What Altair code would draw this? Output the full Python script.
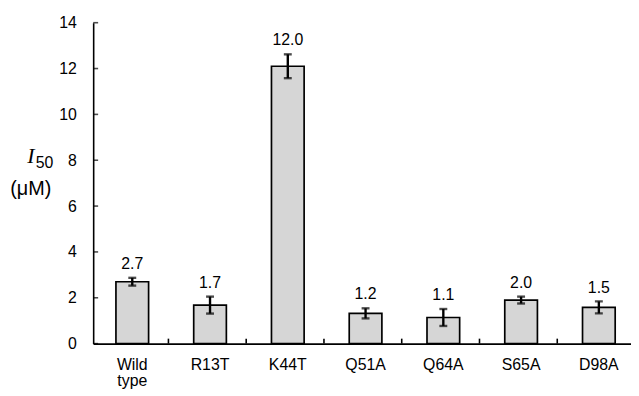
import altair as alt
import pandas as pd

categories = ["Wild type", "R13T", "K44T", "Q51A", "Q64A", "S65A", "D98A"]
means = [2.70, 1.68, 12.10, 1.32, 1.14, 1.90, 1.58]
errors = [0.17, 0.37, 0.52, 0.22, 0.37, 0.15, 0.26]
value_labels = ["2.7", "1.7", "12.0", "1.2", "1.1", "2.0", "1.5"]
y_ticks = [0, 2, 4, 6, 8, 10, 12, 14]

df = pd.DataFrame({
    "cat": categories,
    "mean": means,
    "lo": [m - e for m, e in zip(means, errors)],
    "hi": [m + e for m, e in zip(means, errors)],
    "lab": value_labels,
})

FONT = "Liberation Sans"
W, H = 543, 324

xscale = alt.Scale(domain=categories, paddingInner=0.58, paddingOuter=0.248, align=0.59)
yscale = alt.Scale(domain=[0, 14], nice=False, zero=True)

x_enc = alt.X("cat:N", scale=xscale, sort=categories,
              axis=alt.Axis(title=None, labelAngle=0, ticks=False, labelFont=FONT,
                            labelFontSize=16, labelColor="black", labelPadding=13,
                            labelLineHeight=16, domainColor="black", domainWidth=1.6,
                            labelExpr="split(datum.label, ' ')"))

base = alt.Chart(df)

bars = base.mark_bar(fill="#d6d6d6", stroke="black", strokeWidth=1.7).encode(
    x=x_enc,
    y=alt.Y("mean:Q", scale=yscale,
            axis=alt.Axis(title=None, values=y_ticks, ticks=False, grid=False,
                          labelFont=FONT, labelFontSize=16, labelColor="black",
                          labelPadding=17, domainColor="black", domainWidth=1.6)),
)

err_rule = base.mark_rule(color="black", strokeWidth=2.4).encode(
    x=alt.X("cat:N", scale=xscale, sort=categories), y="lo:Q", y2="hi:Q")
cap_lo = base.mark_tick(color="black", thickness=2.4, size=8, orient="horizontal").encode(
    x=alt.X("cat:N", scale=xscale, sort=categories), y="lo:Q")
cap_hi = base.mark_tick(color="black", thickness=2.4, size=8, orient="horizontal").encode(
    x=alt.X("cat:N", scale=xscale, sort=categories), y="hi:Q")

text = base.mark_text(font=FONT, fontSize=16, color="black", baseline="middle", dy=-14).encode(
    x=alt.X("cat:N", scale=xscale, sort=categories), y="hi:Q", text="lab:N")

# inward y-axis ticks
ytick_df = pd.DataFrame({"v": y_ticks})
yticks = alt.Chart(ytick_df).mark_tick(color="black", thickness=1.6, size=5,
                                       orient="horizontal", xOffset=2.5).encode(
    y=alt.Y("v:Q", scale=yscale), x=alt.value(0))

# inward x-axis ticks between bars
xtick_df = pd.DataFrame({"cat": categories[1:]})
xticks = alt.Chart(xtick_df).mark_rule(color="black", strokeWidth=1.6, xOffset=-42).encode(
    x=alt.X("cat:N", scale=xscale, sort=categories),
    y=alt.value(H - 5), y2=alt.value(H))

# y title: italic I with subscript 50, and (μM)
t_I = alt.Chart(pd.DataFrame({"t": ["I"]})).mark_text(
    font="Liberation Serif", fontStyle="italic", fontSize=22, color="black",
    align="center", baseline="middle").encode(
    text="t:N", x=alt.value(-63), y=alt.value(135))
t_50 = alt.Chart(pd.DataFrame({"t": ["50"]})).mark_text(
    font=FONT, fontSize=16, color="black", align="left", baseline="middle").encode(
    text="t:N", x=alt.value(-58), y=alt.value(142))
t_um = alt.Chart(pd.DataFrame({"t": ["(μM)"]})).mark_text(
    font=FONT, fontSize=20, color="black", align="center", baseline="middle").encode(
    text="t:N", x=alt.value(-63), y=alt.value(168))

chart = alt.layer(bars, err_rule, cap_lo, cap_hi, text, yticks, xticks, t_I, t_50, t_um).properties(
    width=W, height=H,
    autosize=alt.AutoSizeParams(type="none"),
    padding={"left": 86, "top": 13, "right": 0, "bottom": 46},
    background="white",
).configure_view(stroke=None)

chart.save("out.html", embed_options={"renderer": "svg", "actions": False})
